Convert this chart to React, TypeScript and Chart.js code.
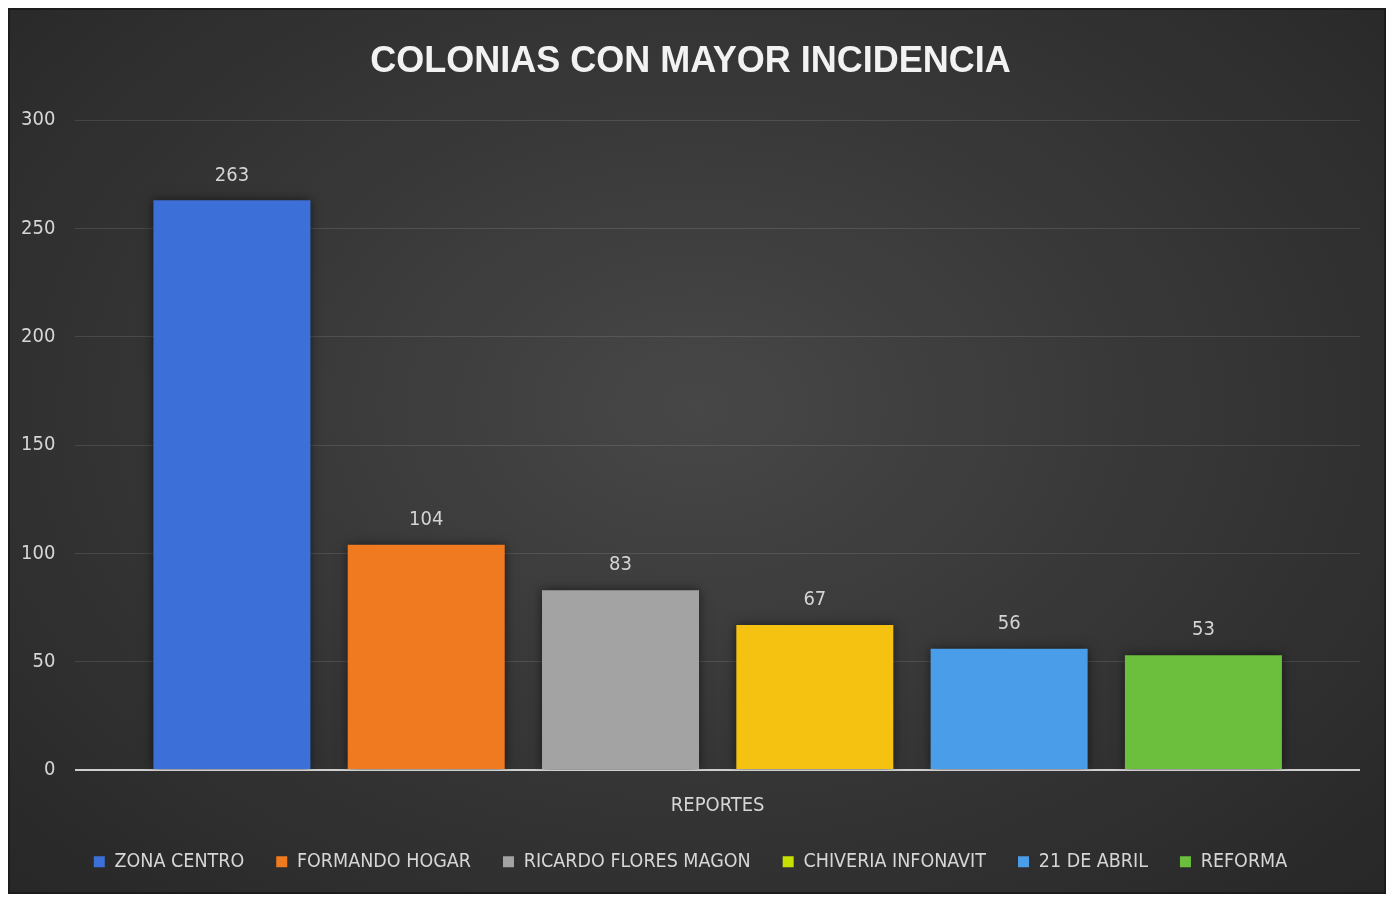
import React, { useEffect, useRef } from "react";
import { Chart, registerables } from "chart.js";

Chart.register(...registerables);

const categories = ["REPORTES"];
const seriesNames = [
  "ZONA CENTRO",
  "FORMANDO HOGAR",
  "RICARDO FLORES MAGON",
  "CHIVERIA INFONAVIT",
  "21 DE ABRIL",
  "REFORMA",
];
const seriesValues = [263, 104, 83, 67, 56, 53];
const barColors = ["#3c6fd8", "#f07a20", "#a3a3a3", "#f5c211", "#4a9de8", "#6cbf3c"];
const legendColors = ["#3c6fd8", "#f07a20", "#a3a3a3", "#c6e000", "#4a9de8", "#6cbf3c"];
const yTicks = [0, 50, 100, 150, 200, 250, 300];

const NARROW = '"DejaVu Sans Condensed", "Liberation Sans", sans-serif';

const barShadowPlugin = {
  id: "barShadow",
  beforeDatasetsDraw(chart: any) {
    const ctx = chart.ctx;
    ctx.save();
    ctx.shadowColor = "rgba(0,0,0,0.55)";
    ctx.shadowBlur = 10;
  },
  afterDatasetsDraw(chart: any) {
    chart.ctx.restore();
  },
};

const dataLabelPlugin = {
  id: "dataLabels",
  afterDatasetsDraw(chart: any) {
    const ctx = chart.ctx;
    ctx.save();
    ctx.shadowColor = "rgba(0,0,0,0)";
    ctx.shadowBlur = 0;
    ctx.fillStyle = "#d4d4d4";
    ctx.font = `20px ${NARROW}`;
    ctx.textAlign = "center";
    ctx.textBaseline = "middle";
    chart.data.datasets.forEach((ds: any, i: number) => {
      const meta = chart.getDatasetMeta(i);
      meta.data.forEach((bar: any, j: number) => {
        ctx.fillText(String(ds.data[j]), bar.x, bar.y - 25);
      });
    });
    ctx.restore();
  },
};

export default function App() {
  const ref = useRef<HTMLCanvasElement | null>(null);
  useEffect(() => {
    if (!ref.current) return;
    const chart = new Chart(ref.current, {
      type: "bar",
      data: {
        labels: categories,
        datasets: seriesNames.map((name, i) => ({
          label: name,
          data: [seriesValues[i]],
          backgroundColor: barColors[i],
          borderWidth: 0,
          barPercentage: 0.808,
          categoryPercentage: 0.9075,
        })),
      },
      options: {
        responsive: false,
        animation: false,
        layout: { padding: { left: 13, right: 26, top: 0, bottom: 12.5 } },
        plugins: {
          title: {
            display: true,
            text: "COLONIAS CON MAYOR INCIDENCIA",
            color: "#f2f2f2",
            font: { family: '"Liberation Sans", Arial, sans-serif', size: 36, weight: "bold" },
            padding: { top: 32, bottom: 37 },
          },
          legend: {
            position: "bottom",
            labels: {
              color: "#d6d6d6",
              font: { family: NARROW, size: 19.5 },
              boxWidth: 11,
              boxHeight: 11,
              padding: 32,
              generateLabels: (c: any) => {
                const items = (Chart.defaults.plugins.legend.labels as any).generateLabels(c);
                return items.map((it: any, i: number) => ({
                  ...it,
                  fillStyle: legendColors[i],
                  strokeStyle: "rgba(0,0,0,0)",
                  lineWidth: 0,
                  fontColor: "#d6d6d6",
                }));
              },
            },
          },
          tooltip: { enabled: false },
        },
        scales: {
          x: {
            grid: {
              display: true,
              drawOnChartArea: false,
              drawTicks: true,
              tickLength: 21,
              color: "rgba(0,0,0,0)",
            },
            border: { display: false },
            ticks: {
              color: "#d6d6d6",
              font: { family: NARROW, size: 20, lineHeight: 1.45 },
              padding: 0,
            },
          },
          y: {
            min: 0,
            max: 300,
            afterBuildTicks: (axis: any) => {
              axis.ticks = yTicks.map((v) => ({ value: v }));
            },
            border: { display: false },
            grid: {
              drawTicks: true,
              tickLength: 20,
              tickColor: "rgba(0,0,0,0)",
              color: (ctx: any) => (ctx.tick && ctx.tick.value === 0 ? "#cfcfcf" : "rgba(255,255,255,0.11)"),
              lineWidth: (ctx: any) => (ctx.tick && ctx.tick.value === 0 ? 2 : 1),
            },
            ticks: {
              color: "#d6d6d6",
              font: { family: NARROW, size: 20 },
              padding: 0,
            },
          },
        },
      },
      plugins: [barShadowPlugin, dataLabelPlugin],
    });
    return () => chart.destroy();
  }, []);

  return (
    <div
      style={{
        width: 1378,
        height: 886,
        background: "radial-gradient(ellipse at 50% 45%, #474747 0%, #383838 45%, #272727 100%)",
        boxShadow: "inset 0 0 0 2px #1c1c1c",
      }}
    >
      <canvas ref={ref} width={1378} height={886} style={{ display: "block" }} />
    </div>
  );
}
